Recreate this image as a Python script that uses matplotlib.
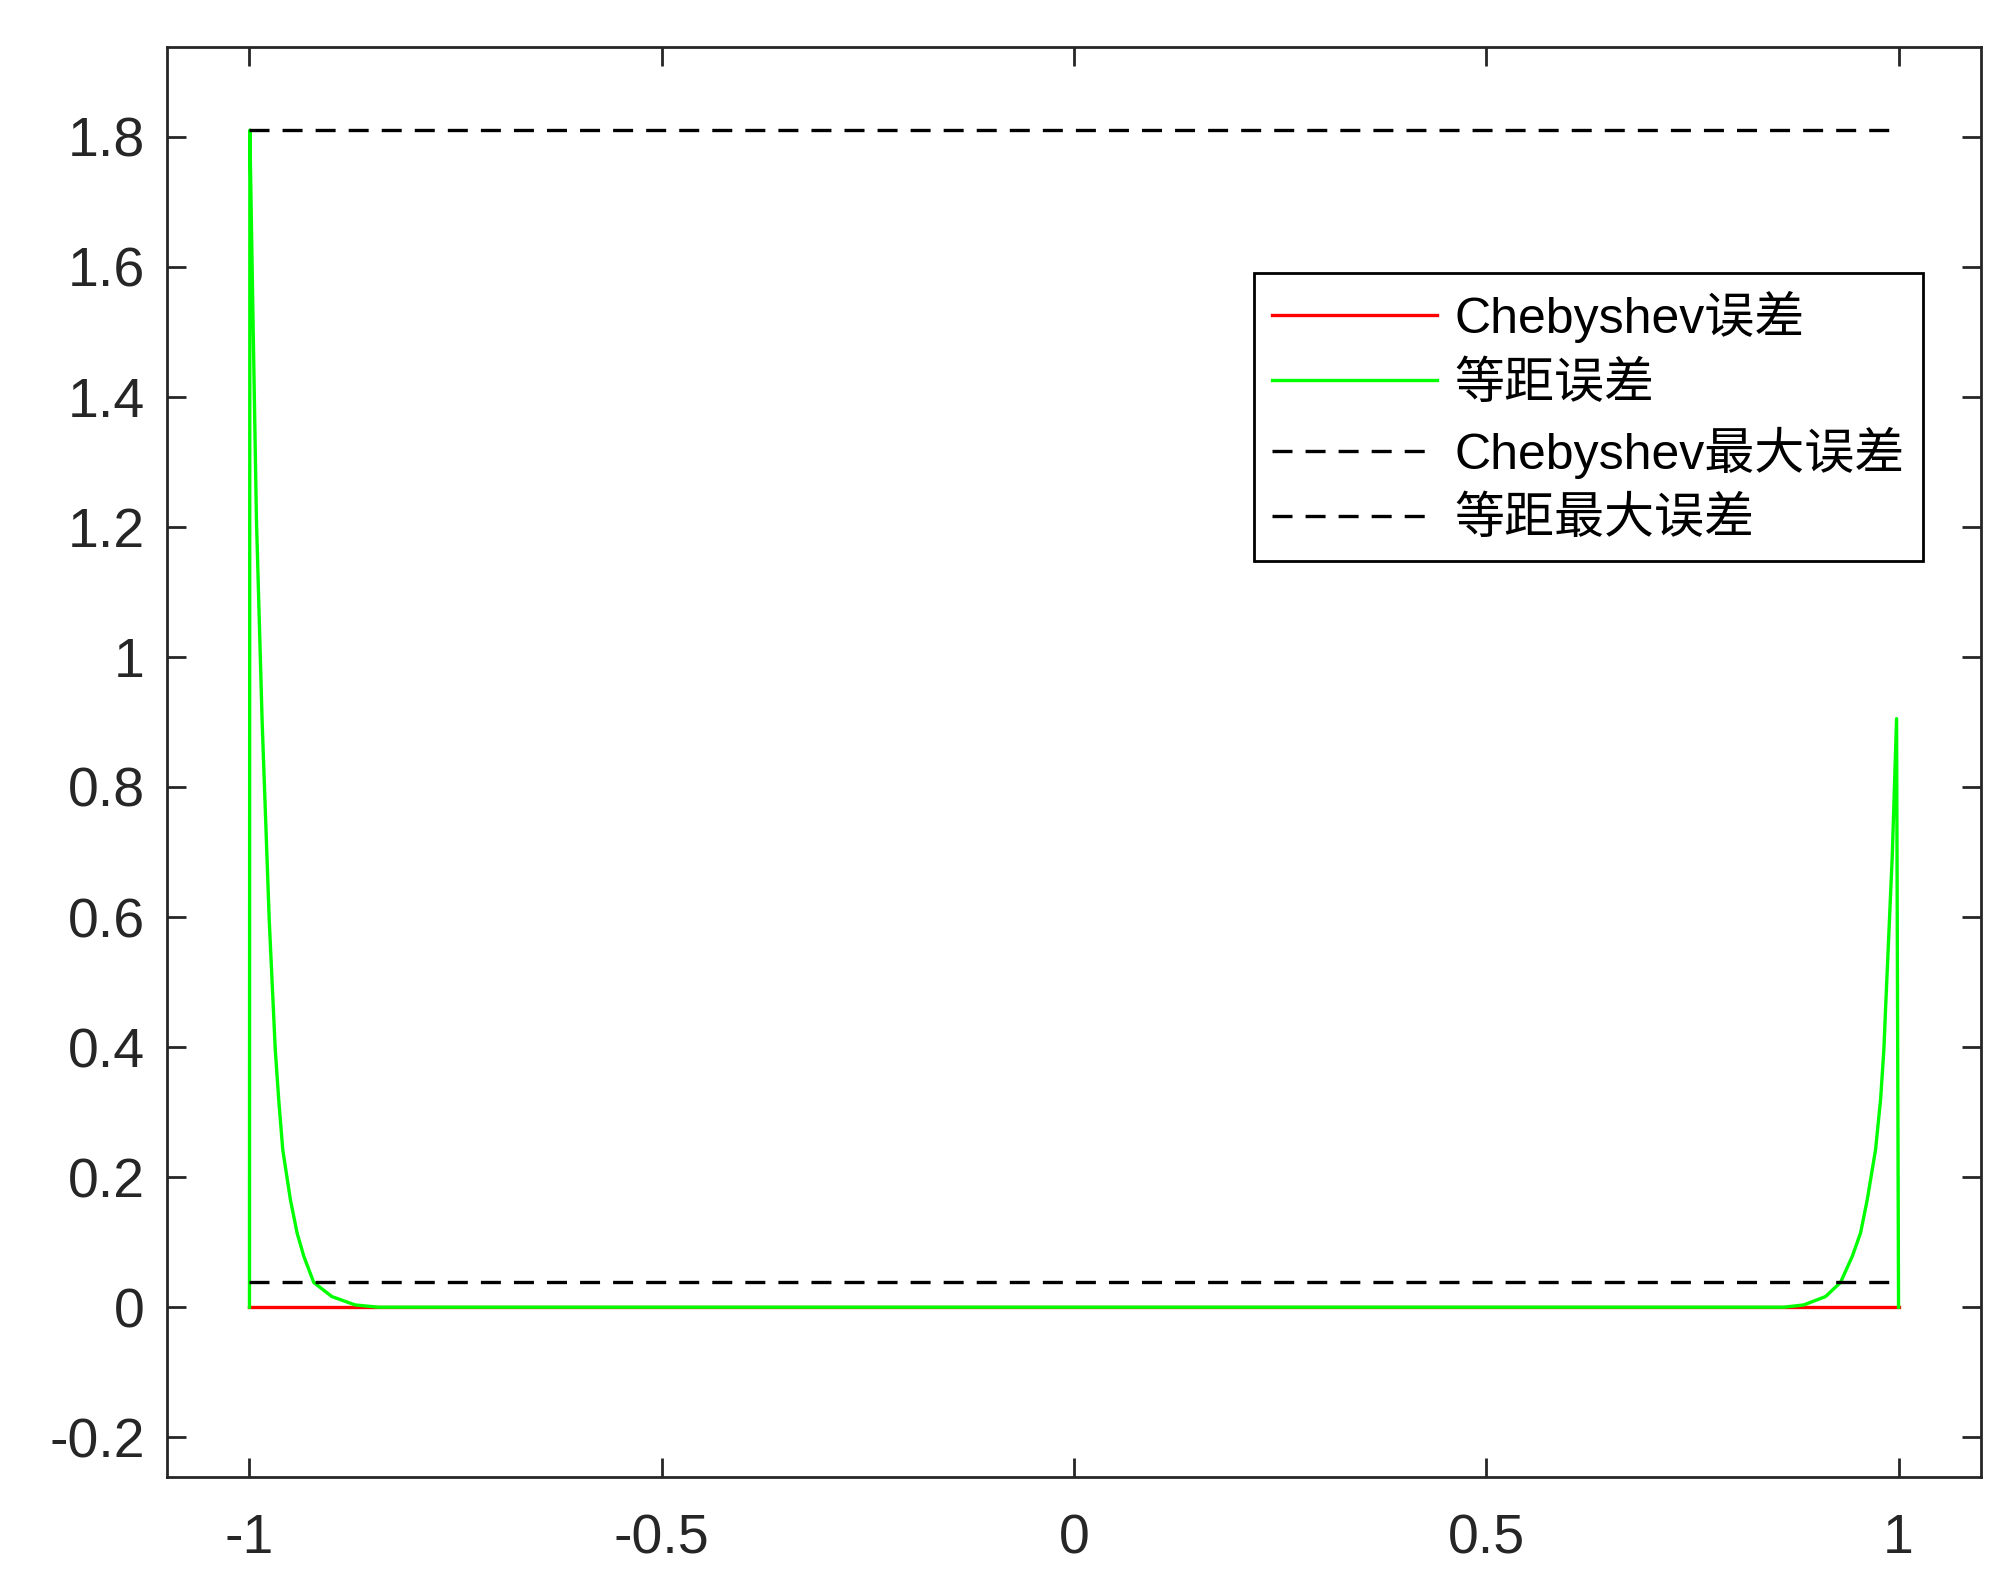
import numpy as np
import matplotlib.pyplot as plt

plt.rcParams['font.family'] = ['Liberation Sans', 'Noto Sans CJK SC']
plt.rcParams['lines.scale_dashes'] = False

# values
x_cheb = [-1.0, 1.0]
err_cheb = [0.0, 0.0]

x_eq = [-1.0, -0.9995, -0.9957, -0.9915, -0.9846, -0.976, -0.9687, -0.9645,
        -0.9596, -0.9503, -0.9422, -0.934, -0.922, -0.900, -0.872, -0.844,
        0.0, 0.861, 0.8851, 0.9114, 0.9296, 0.9438, 0.9539, 0.962, 0.9721,
        0.9782, 0.9822, 0.9842, 0.9924, 0.9976, 1.0]
err_eq = [0.0, 1.81, 1.52, 1.21, 0.90, 0.595, 0.396, 0.319,
          0.242, 0.165, 0.114, 0.078, 0.038, 0.0163, 0.0035, 0.0,
          0.0, 0.0, 0.0035, 0.0163, 0.038, 0.078, 0.114, 0.165, 0.242,
          0.319, 0.396, 0.457, 0.695, 0.905, 0.0]

max_cheb = 0.038
max_eq = 1.81

labels = ['Chebyshev误差', '等距误差', 'Chebyshev最大误差', '等距最大误差']
xticks = [-1, -0.5, 0, 0.5, 1]
xticklabels = ['-1', '-0.5', '0', '0.5', '1']
yticks = [-0.2, 0, 0.2, 0.4, 0.6, 0.8, 1, 1.2, 1.4, 1.6, 1.8]
yticklabels = ['-0.2', '0', '0.2', '0.4', '0.6', '0.8', '1', '1.2', '1.4', '1.6', '1.8']

fig = plt.figure(figsize=(10, 7.92), dpi=200)
ax = fig.add_axes([0.0835, 0.0676, 0.907, 0.9028])

lw = 1.2
dash = (0, (7.2, 4.7))
ax.plot(x_cheb, err_cheb, color='#ff0000', lw=lw, label=labels[0])
ax.plot(x_eq, err_eq, color='#00ff00', lw=lw, label=labels[1])
ax.plot([-1, 1], [max_cheb, max_cheb], color='k', lw=lw, linestyle=dash, label=labels[2])
ax.plot([-1, 1], [max_eq, max_eq], color='k', lw=lw, linestyle=dash, label=labels[3])

ax.set_xlim(-1.1, 1.1)
ax.set_ylim(-0.261, 1.938)
ax.set_xticks(xticks)
ax.set_xticklabels(xticklabels)
ax.set_yticks(yticks)
ax.set_yticklabels(yticklabels)

c = '#262626'
for s in ax.spines.values():
    s.set_color(c)
    s.set_linewidth(1.0)
ax.tick_params(direction='in', length=6.8, width=1.0, color=c, labelcolor=c,
               labelsize=20, top=True, right=True)
ax.tick_params(axis='x', pad=13)
ax.tick_params(axis='y', pad=8)

leg = ax.legend(loc='upper right', bbox_to_anchor=(0.968, 0.842), fontsize=18,
                frameon=True, fancybox=False, edgecolor='k', framealpha=1,
                handlelength=3.3, handletextpad=0.35, labelspacing=0.37,
                borderpad=0.36, borderaxespad=0)
leg.get_frame().set_linewidth(1.0)

plt.savefig('out.png', dpi=200)
